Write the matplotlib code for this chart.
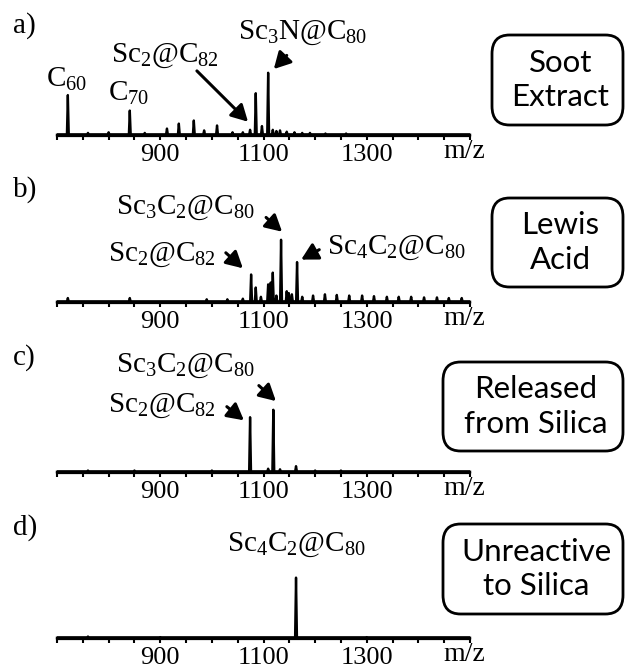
import numpy as np
import matplotlib
matplotlib.use("Agg")
import matplotlib.pyplot as plt
from matplotlib.patches import FancyBboxPatch

plt.rcParams['font.family'] = ['Liberation Serif', 'DejaVu Serif']
plt.rcParams['mathtext.fontset'] = 'custom'
plt.rcParams['mathtext.rm'] = 'Liberation Serif'
plt.rcParams['mathtext.it'] = 'Liberation Serif:italic'

# peak lists (m/z, relative intensity %)
a_mz = [721, 760, 800, 841, 870, 913, 936, 965, 985, 1010, 1040, 1060, 1074,
        1085, 1097, 1109, 1118, 1125, 1132, 1145, 1160, 1175, 1190, 1220, 1260]
a_int = [64, 3, 4, 39, 3, 10, 18, 23, 7, 15, 4, 4, 8,
         67, 14, 100, 8, 6, 7, 5, 4, 3, 3, 2, 2]

b_mz = [721, 841, 990, 1030, 1060, 1076, 1085, 1095, 1109, 1114, 1118, 1125,
        1134, 1145, 1149, 1155, 1165, 1175, 1196, 1219, 1242, 1266, 1291, 1314,
        1339, 1362, 1386, 1411, 1436, 1459, 1484]
b_int = [6, 6, 4, 4, 5, 44, 23, 8, 28, 31, 47, 10,
         100, 17, 14, 12, 64, 8, 10, 12, 11, 10, 10, 9,
         8, 8, 8, 7, 7, 6, 6]

c_mz = [760, 850, 1000, 1074, 1109, 1119, 1132, 1163, 1200, 1250]
c_int = [2, 2, 2, 88, 5, 100, 4, 9, 2, 2]

d_mz = [760, 900, 1163, 1300]
d_int = [2, 1, 97, 1]

tick_pos = list(range(700, 1501, 50))
tick_text = ['900' if t == 900 else '1100' if t == 1100 else '1300' if t == 1300 else ''
             for t in tick_pos]

panel_letters = ['a)', 'b)', 'c)', 'd)']
box_texts = ['Soot\nExtract', 'Lewis\nAcid', 'Released\nfrom Silica', 'Unreactive\nto Silica']


def trace(mz, inten, hw=1.8):
    x = [700]
    y = [0]
    for m, h in sorted(zip(mz, inten)):
        x += [m - hw, m, m + hw]
        y += [0, h, 0]
    x.append(1500)
    y.append(0)
    return np.array(x), np.array(y)


W, H = 626, 671
fig = plt.figure(figsize=(W / 100, H / 100), dpi=100)

baselines = [136, 303, 473, 639]
ax_h = 120
axes = []
for base in baselines:
    ax = fig.add_axes([57 / W, (H - base) / H, 413 / W, ax_h / H])
    ax.set_xlim(700, 1500)
    ax.set_ylim(-2, ax_h * 100 / 62 - 2)
    for s in ['top', 'left', 'right']:
        ax.spines[s].set_visible(False)
    ax.spines['bottom'].set_linewidth(1.6)
    ax.set_yticks([])
    ax.set_xticks(tick_pos)
    ax.set_xticklabels(tick_text, fontsize=19)
    ax.tick_params(axis='x', direction='out', length=3, width=1.5, pad=2.5)
    ax.patch.set_alpha(0)
    ax.text((464 - 57) / 413, -0.025, 'm/z', transform=ax.transAxes, fontsize=20,
            ha='center', va='top', clip_on=False)
    axes.append(ax)

for ax, mz, inten in zip(axes, [a_mz, b_mz, c_mz, d_mz], [a_int, b_int, c_int, d_int]):
    x, y = trace(mz, inten)
    ax.plot(x, y, color='black', lw=1.7, clip_on=False)
    ax.plot([700, 1500], [1.5, 1.5], color='black', lw=1.8)

lab = dict(fontsize=21, ha='center', va='baseline', clip_on=False)
arw = dict(arrowstyle='-|>,head_length=0.55,head_width=0.3', color='black', lw=2.2,
           mutation_scale=18, shrinkA=0, shrinkB=0)

ax = axes[0]
ax.text(719, 77, r'C$_{60}$', **lab)
ax.text(838, 55, r'C$_{70}$', **lab)
ax.text(909, 118, r'Sc$_2$@C$_{82}$', **lab)
ax.annotate('', xy=(1070, 21), xytext=(971, 103), arrowprops=arw, annotation_clip=False)
ax.text(1176, 155, r'Sc$_3$N@C$_{80}$', **lab)
ax.annotate('', xy=(1120, 106), xytext=(1145, 128), arrowprops=arw, annotation_clip=False)

ax = axes[1]
ax.text(948, 142, r'Sc$_3$C$_2$@C$_{80}$', **lab)
ax.annotate('', xy=(1136, 113), xytext=(1105, 136), arrowprops=arw, annotation_clip=False)
ax.text(903, 66, r'Sc$_2$@C$_{82}$', **lab)
ax.annotate('', xy=(1060, 54), xytext=(1027, 79), arrowprops=arw, annotation_clip=False)
ax.text(1357, 77, r'Sc$_4$C$_2$@C$_{80}$', **lab)
ax.annotate('', xy=(1173, 68), xytext=(1208, 84), arrowprops=arw, annotation_clip=False)

ax = axes[2]
ax.text(948, 161, r'Sc$_3$C$_2$@C$_{80}$', **lab)
ax.annotate('', xy=(1124, 114), xytext=(1091, 139), arrowprops=arw, annotation_clip=False)
ax.text(903, 97, r'Sc$_2$@C$_{82}$', **lab)
ax.annotate('', xy=(1062, 83), xytext=(1029, 105), arrowprops=arw, annotation_clip=False)

ax = axes[3]
ax.text(1163, 140, r'Sc$_4$C$_2$@C$_{80}$', **lab)

# panel letters
for letter, yb in zip(panel_letters, [33, 197, 365, 535]):
    fig.text(13 / W, (H - yb) / H, letter, fontsize=21, ha='left', va='baseline')

# rounded label boxes
boxes = [(492, 35, 623, 125), (492, 198, 623, 287), (443, 362, 623, 451), (443, 524, 623, 614)]
for (x0, y0, x1, y1), txt in zip(boxes, box_texts):
    p = FancyBboxPatch((x0 / W, (H - y1) / H), (x1 - x0) / W, (y1 - y0) / H,
                       boxstyle='round,pad=0,rounding_size=0.028',
                       transform=fig.transFigure, facecolor='white',
                       edgecolor='black', lw=2)
    fig.patches.append(p)
    fig.text((x0 + x1) / 2 / W + 3 / W, (H - (y0 + y1) / 2) / H, txt, fontsize=22.5,
             family=['Lato', 'DejaVu Sans'], ha='center', va='center',
             linespacing=1.3)

fig.savefig('out.png', dpi=100)
